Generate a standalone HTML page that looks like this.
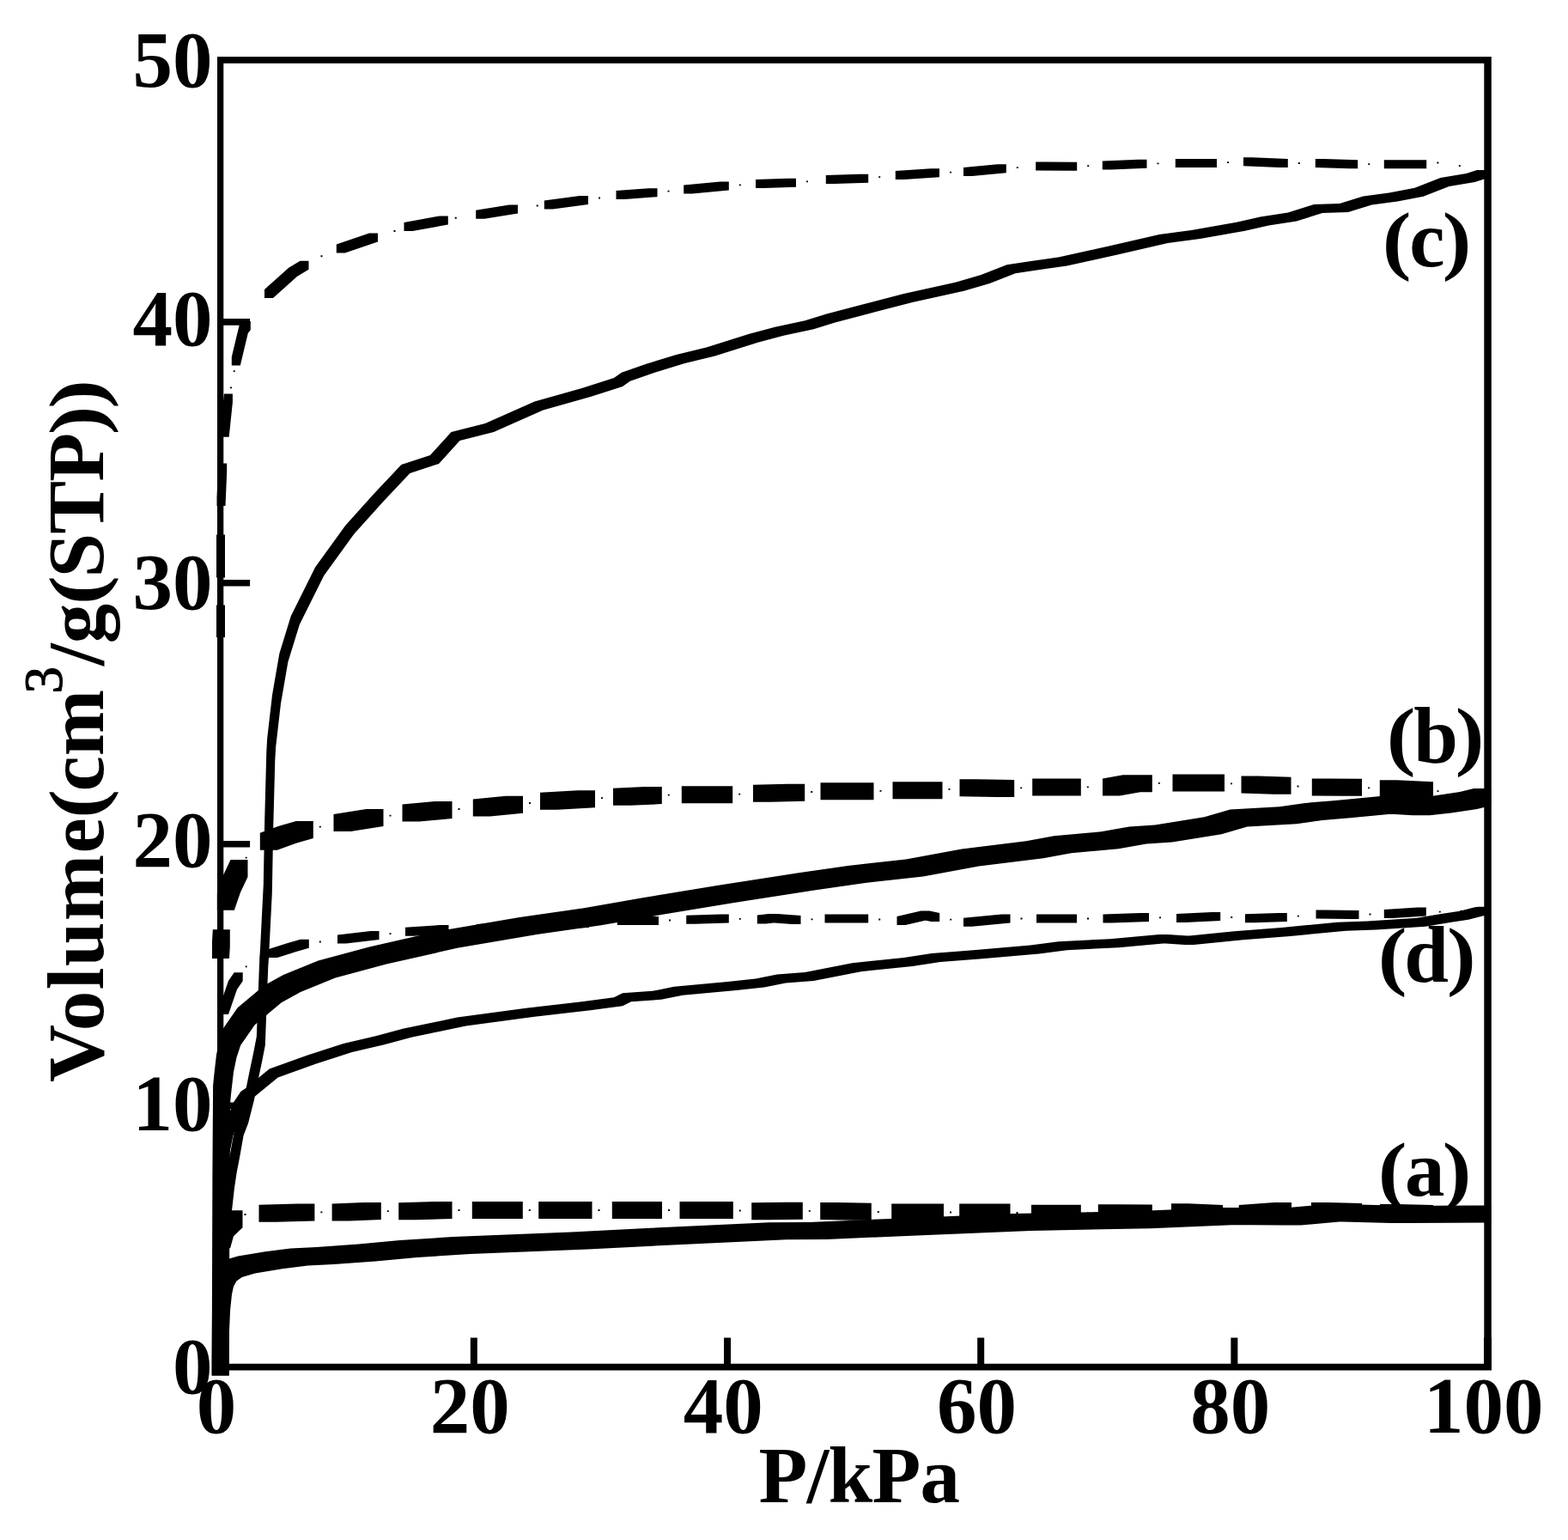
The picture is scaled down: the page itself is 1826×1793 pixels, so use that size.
<!DOCTYPE html>
<html lang="en"><head><meta charset="utf-8"><title>Adsorption isotherms</title>
<style>html,body{margin:0;padding:0;background:#fff}body{width:1826px;height:1793px;overflow:hidden;position:relative}svg{display:block;position:absolute;left:0;top:0}text{font-family:"Liberation Serif",serif;font-weight:bold;fill:#000;font-size:93px}</style></head><body>
<svg width="1826" height="1793" viewBox="0 0 1826 1793">
<rect width="1826" height="1793" fill="#fff"/>
<g fill="#000" stroke="none">
<path d="M253 66H260.3V1595.5H253ZM1728.3 66H1736.8V1595.5H1728.3ZM253 66H1736.8V73.8H253ZM253 1587.8H1736.8V1595.5H253ZM547.83 1557.5H555.83V1588.8H547.83ZM843.01 1557.5H851.01V1588.8H843.01ZM1138.19 1557.5H1146.19V1588.8H1138.19ZM1433.37 1557.5H1441.37V1588.8H1433.37ZM1728 1557.5H1737V1595.5H1728ZM259.3 1283.5H291.1V1291.1H259.3ZM259.3 978.95H291.1V986.55H259.3ZM259.3 674.9H291.1V682.5H259.3ZM259.3 371.05H291.1V378.65H259.3Z"/>
<path d="M251.9 1586L253 1515L263 1515L263 1525L261.9 1596L251.9 1596ZM253 1515L255 1455L265 1455L265 1465L263 1525L253 1525ZM255 1455L259.5 1404L269.5 1404L269.5 1414L265 1465L255 1465ZM259.5 1404L263 1373L273 1373L273 1383L269.5 1414L259.5 1414ZM263 1373L265.7 1355L275.7 1355L275.7 1365L273 1383L263 1383ZM265.7 1355L269 1338L279 1338L279 1348L275.7 1365L265.7 1365ZM269 1338L273.6 1312L283.6 1312L283.6 1322L279 1348L269 1348ZM273.6 1312L279 1298L289 1298L289 1308L283.6 1322L273.6 1322ZM279 1298L285.8 1271.2L295.8 1271.2L295.8 1281.2L289 1308L279 1308ZM285.8 1271.2L290.1 1249.8L300.1 1249.8L300.1 1259.8L295.8 1281.2L285.8 1281.2ZM290.1 1249.8L295.3 1225L305.3 1225L305.3 1235L300.1 1259.8L290.1 1259.8ZM295.3 1225L298.8 1207L308.8 1207L308.8 1217L305.3 1235L295.3 1235ZM298.8 1207L301 1148.5L311 1148.5L311 1158.5L308.8 1217L298.8 1217ZM301 1148.5L302.3 1115L312.3 1115L312.3 1125L311 1158.5L301 1158.5ZM302.3 1115L303 1105L313 1105L313 1115L312.3 1125L302.3 1125ZM303 1105L306.8 1030L316.8 1030L316.8 1040L313 1115L303 1115ZM306.8 1030L308.2 955L318.2 955L318.2 965L316.8 1040L306.8 1040ZM308.2 955L310.3 875L320.3 875L320.3 885L318.2 965L308.2 965ZM310.3 875L311.2 859.4L321.2 859.4L321.2 869.4L320.3 885L310.3 885ZM311.2 859.4L317 809.2L327 809.2L327 819.2L321.2 869.4L311.2 869.4ZM317 809.2L325.4 760.7L335.4 760.7L335.4 770.7L327 819.2L317 819.2ZM325.4 760.7L338.8 717.2L348.8 717.2L348.8 727.2L335.4 770.7L325.4 770.7ZM338.8 717.2L367.2 660.3L377.2 660.3L377.2 670.3L348.8 727.2L338.8 727.2ZM367.2 660.3L402.3 611.8L412.3 611.8L412.3 621.8L377.2 670.3L367.2 670.3ZM402.3 611.8L435.8 574.4L445.8 574.4L445.8 584.4L412.3 621.8L402.3 621.8ZM435.8 574.4L467.4 541L477.4 541L477.4 551L445.8 584.4L435.8 584.4ZM467.4 541L501 530L511 530L511 540L477.4 551L467.4 551ZM501 530L525.5 503L535.5 503L535.5 513L511 540L501 540ZM525.5 503L565 493L575 493L575 503L535.5 513L525.5 513ZM565 493L622.5 467.5L632.5 467.5L632.5 477.5L575 503L565 503ZM622.5 467.5L677.5 452L687.5 452L687.5 462L632.5 477.5L622.5 477.5ZM677.5 452L715 440L725 440L725 450L687.5 462L677.5 462ZM715 440L723.8 433.8L733.8 433.8L733.8 443.8L725 450L715 450ZM723.8 433.8L752.5 423.8L762.5 423.8L762.5 433.8L733.8 443.8L723.8 443.8ZM752.5 423.8L787.5 413L797.5 413L797.5 423L762.5 433.8L752.5 433.8ZM787.5 413L822.5 404.5L832.5 404.5L832.5 414.5L797.5 423L787.5 423ZM822.5 404.5L872.5 388.8L882.5 388.8L882.5 398.8L832.5 414.5L822.5 414.5ZM872.5 388.8L902.5 380.8L912.5 380.8L912.5 390.8L882.5 398.8L872.5 398.8ZM902.5 380.8L937.5 373.2L947.5 373.2L947.5 383.2L912.5 390.8L902.5 390.8ZM937.5 373.2L962.5 365.5L972.5 365.5L972.5 375.5L947.5 383.2L937.5 383.2ZM962.5 365.5L1002.5 355L1012.5 355L1012.5 365L972.5 375.5L962.5 375.5ZM1002.5 355L1052.5 342L1062.5 342L1062.5 352L1012.5 365L1002.5 365ZM1052.5 342L1112.5 328.8L1122.5 328.8L1122.5 338.8L1062.5 352L1052.5 352ZM1112.5 328.8L1142.5 320L1152.5 320L1152.5 330L1122.5 338.8L1112.5 338.8ZM1142.5 320L1172.5 308.2L1182.5 308.2L1182.5 318.2L1152.5 330L1142.5 330ZM1172.5 308.2L1202.5 303.8L1212.5 303.8L1212.5 313.8L1182.5 318.2L1172.5 318.2ZM1202.5 303.8L1232.5 299.5L1242.5 299.5L1242.5 309.5L1212.5 313.8L1202.5 313.8ZM1232.5 299.5L1292.5 286.2L1302.5 286.2L1302.5 296.2L1242.5 309.5L1232.5 309.5ZM1292.5 286.2L1350 273L1360 273L1360 283L1302.5 296.2L1292.5 296.2ZM1350 273L1387.5 268L1397.5 268L1397.5 278L1360 283L1350 283ZM1387.5 268L1440 258.8L1450 258.8L1450 268.8L1397.5 278L1387.5 278ZM1440 258.8L1467.5 252.5L1477.5 252.5L1477.5 262.5L1450 268.8L1440 268.8ZM1467.5 252.5L1500 247.5L1510 247.5L1510 257.5L1477.5 262.5L1467.5 262.5ZM1500 247.5L1530 238L1540 238L1540 248L1510 257.5L1500 257.5ZM1530 238L1560 237L1570 237L1570 247L1540 248L1530 248ZM1560 237L1587.5 228.5L1597.5 228.5L1597.5 238.5L1570 247L1560 247ZM1587.5 228.5L1617.5 224.5L1627.5 224.5L1627.5 234.5L1597.5 238.5L1587.5 238.5ZM1617.5 224.5L1647.5 218.8L1657.5 218.8L1657.5 228.8L1627.5 234.5L1617.5 234.5ZM1647.5 218.8L1677.5 207L1687.5 207L1687.5 217L1657.5 228.8L1647.5 228.8ZM1677.5 207L1707.5 202L1717.5 202L1717.5 212L1687.5 217L1677.5 217ZM1707.5 202L1720 198L1730 198L1730 208L1717.5 212L1707.5 212ZM1720 198L1732 198L1732 208L1720 208Z"/>
<path d="M252 704.6L262 704.6L262 742L252 742ZM252 622.4L262 622.4L262 672.6L252 672.6ZM252.5 579L254.2 539.6L264.2 539.6L264.2 549.6L262.5 589L252.5 589ZM256.7 498.7L260.9 458.5L270.9 458.5L270.9 468.5L266.7 508.7L256.7 508.7ZM269.8 415.5L278.8 378L288.8 378L288.8 388L279.8 425.5L269.8 425.5ZM278.8 378L281.8 374L291.8 374L291.8 384L288.8 388L278.8 388ZM308 337L336.2 311.8L346.2 311.8L346.2 321.8L318 347L308 347ZM336.2 311.8L349.5 303.8L359.5 303.8L359.5 313.8L346.2 321.8L336.2 321.8ZM391.8 284.5L430 271.5L440 271.5L440 281.5L401.8 294.5L391.8 294.5ZM470.5 259L511.8 251.5L521.8 251.5L521.8 261.5L480.5 269L470.5 269ZM554.2 244.8L593 238.5L603 238.5L603 248.5L564.2 254.8L554.2 254.8ZM633.8 233.4L675 228.1L685 228.1L685 238.1L643.8 243.4L633.8 243.4ZM717.5 222L755.5 219.2L765.5 219.2L765.5 229.2L727.5 232L717.5 232ZM796.2 215.6L838.8 211.5L848.8 211.5L848.8 221.5L806.2 225.6L796.2 225.6ZM880 209L917 207.8L927 207.8L927 217.8L890 219L880 219ZM961.8 204.1L1001.2 202.8L1011.2 202.8L1011.2 212.8L971.8 214.1L961.8 214.1ZM1042.8 199L1084 196.2L1094 196.2L1094 206.2L1052.8 209L1042.8 209ZM1122 195L1161.8 191.2L1171.8 191.2L1171.8 201.2L1132 205L1122 205ZM1206.2 188.4L1216.2 188.4L1254.2 188.8L1254.2 198.8L1244.2 198.8L1206.2 198.4ZM1283.8 187.5L1325.5 185.8L1335.5 185.8L1335.5 195.8L1293.8 197.5L1283.8 197.5ZM1368.8 185L1417 185L1417 195L1368.8 195ZM1448 183.2L1458 183.2L1499.8 185L1499.8 195L1489.8 195L1448 193.2ZM1531.8 185L1541.8 185L1581.2 186.2L1581.2 196.2L1571.2 196.2L1531.8 195ZM1611.8 186.2L1661.2 186.2L1661.2 196.2L1611.8 196.2Z"/>
<path d="M251.9 1586L252.5 1445L262.5 1445L262.5 1455L261.9 1596L251.9 1596ZM252.5 1445L254 1375L264 1375L264 1385L262.5 1455L252.5 1455ZM254 1375L257.5 1332.1L267.5 1332.1L267.5 1342.1L264 1385L254 1385ZM257.5 1332.1L261.5 1312L271.5 1312L271.5 1322L267.5 1342.1L257.5 1342.1ZM261.5 1312L266.5 1297.3L276.5 1297.3L276.5 1307.3L271.5 1322L261.5 1322ZM266.5 1297.3L271.6 1284.1L281.6 1284.1L281.6 1294.1L276.5 1307.3L266.5 1307.3ZM271.6 1284.1L280.5 1270.8L290.5 1270.8L290.5 1280.8L281.6 1294.1L271.6 1294.1ZM280.5 1270.8L286.9 1266.5L296.9 1266.5L296.9 1276.5L290.5 1280.8L280.5 1280.8ZM286.9 1266.5L313.7 1244.4L323.7 1244.4L323.7 1254.4L296.9 1276.5L286.9 1276.5ZM313.7 1244.4L357.5 1228.8L367.5 1228.8L367.5 1238.8L323.7 1254.4L313.7 1254.4ZM357.5 1228.8L400 1215L410 1215L410 1225L367.5 1238.8L357.5 1238.8ZM400 1215L437.5 1206.2L447.5 1206.2L447.5 1216.2L410 1225L400 1225ZM437.5 1206.2L470 1197.5L480 1197.5L480 1207.5L447.5 1216.2L437.5 1216.2ZM470 1197.5L483.5 1194.8L493.5 1194.8L493.5 1204.8L480 1207.5L470 1207.5ZM483.5 1194.8L532.5 1184.5L542.5 1184.5L542.5 1194.5L493.5 1204.8L483.5 1204.8ZM532.5 1184.5L612.5 1173.8L622.5 1173.8L622.5 1183.8L542.5 1194.5L532.5 1194.5ZM612.5 1173.8L677.5 1166.2L687.5 1166.2L687.5 1176.2L622.5 1183.8L612.5 1183.8ZM677.5 1166.2L715 1161.2L725 1161.2L725 1171.2L687.5 1176.2L677.5 1176.2ZM715 1161.2L725 1156.2L735 1156.2L735 1166.2L725 1171.2L715 1171.2ZM725 1156.2L760 1153.8L770 1153.8L770 1163.8L735 1166.2L725 1166.2ZM760 1153.8L785 1148.8L795 1148.8L795 1158.8L770 1163.8L760 1163.8ZM785 1148.8L847.5 1143L857.5 1143L857.5 1153L795 1158.8L785 1158.8ZM847.5 1143L880 1139.5L890 1139.5L890 1149.5L857.5 1153L847.5 1153ZM880 1139.5L905 1134.5L915 1134.5L915 1144.5L890 1149.5L880 1149.5ZM905 1134.5L937.5 1132L947.5 1132L947.5 1142L915 1144.5L905 1144.5ZM937.5 1132L992.5 1121.2L1002.5 1121.2L1002.5 1131.2L947.5 1142L937.5 1142ZM992.5 1121.2L1052.5 1115L1062.5 1115L1062.5 1125L1002.5 1131.2L992.5 1131.2ZM1052.5 1115L1085 1110L1095 1110L1095 1120L1062.5 1125L1052.5 1125ZM1085 1110L1117.5 1107.5L1127.5 1107.5L1127.5 1117.5L1095 1120L1085 1120ZM1117.5 1107.5L1133.5 1106.2L1143.5 1106.2L1143.5 1116.2L1127.5 1117.5L1117.5 1117.5ZM1133.5 1106.2L1200 1100.5L1210 1100.5L1210 1110.5L1143.5 1116.2L1133.5 1116.2ZM1200 1100.5L1232.5 1096.2L1242.5 1096.2L1242.5 1106.2L1210 1110.5L1200 1110.5ZM1232.5 1096.2L1292.5 1093.2L1302.5 1093.2L1302.5 1103.2L1242.5 1106.2L1232.5 1106.2ZM1292.5 1093.2L1350 1088L1360 1088L1360 1098L1302.5 1103.2L1292.5 1103.2ZM1350 1088L1360 1088L1390 1090L1390 1100L1380 1100L1350 1098ZM1380 1090L1437.5 1084.2L1447.5 1084.2L1447.5 1094.2L1390 1100L1380 1100ZM1437.5 1084.2L1492.5 1080L1502.5 1080L1502.5 1090L1447.5 1094.2L1437.5 1094.2ZM1492.5 1080L1517.5 1077.5L1527.5 1077.5L1527.5 1087.5L1502.5 1090L1492.5 1090ZM1517.5 1077.5L1557.5 1073.8L1567.5 1073.8L1567.5 1083.8L1527.5 1087.5L1517.5 1087.5ZM1557.5 1073.8L1592.5 1072.5L1602.5 1072.5L1602.5 1082.5L1567.5 1083.8L1557.5 1083.8ZM1592.5 1072.5L1650 1068.8L1660 1068.8L1660 1078.8L1602.5 1082.5L1592.5 1082.5ZM1650 1068.8L1680 1063.8L1690 1063.8L1690 1073.8L1660 1078.8L1650 1078.8ZM1680 1063.8L1700 1060.8L1710 1060.8L1710 1070.8L1690 1073.8L1680 1073.8ZM1700 1060.8L1717.5 1056.2L1727.5 1056.2L1727.5 1066.2L1710 1070.8L1700 1070.8ZM1717.5 1056.2L1722 1055.8L1732 1055.8L1732 1065.8L1727.5 1066.2L1717.5 1066.2Z"/>
<path d="M266 1142L272.7 1132.2L282.7 1132.2L282.7 1142.2L276 1152L266 1152ZM256 1171L266 1142L276 1142L276 1152L266 1181L256 1181ZM313 1105L335 1098L345 1098L345 1108L323 1115L313 1115ZM335 1098L349.8 1093.8L359.8 1093.8L359.8 1103.8L345 1108L335 1108ZM393 1088.4L431.5 1084L441.5 1084L441.5 1094L403 1098.4L393 1098.4ZM472 1079.8L512.5 1077L522.5 1077L522.5 1087L482 1089.8L472 1089.8ZM555 1076L593.5 1074L603.5 1074L603.5 1084L565 1086L555 1086ZM634 1071.5L676 1070L686 1070L686 1080L644 1081.5L634 1081.5ZM718.8 1067L767 1067L767 1077L718.8 1077ZM799.2 1065.8L838.8 1064.5L848.8 1064.5L848.8 1074.5L809.2 1075.8L799.2 1075.8ZM881.8 1065.5L895 1064L905 1064L905 1074L891.8 1075.5L881.8 1075.5ZM895 1064L905 1064L932.5 1066L932.5 1076L922.5 1076L895 1074ZM960.5 1064.5L1011.2 1064.5L1011.2 1074.5L960.5 1074.5ZM1044.5 1067L1072.5 1060.5L1082.5 1060.5L1082.5 1070.5L1054.5 1077L1044.5 1077ZM1072.5 1060.5L1082.5 1060.5L1094.2 1063L1094.2 1073L1084.2 1073L1072.5 1070.5ZM1122 1068.8L1166.5 1064.5L1176.5 1064.5L1176.5 1074.5L1132 1078.8L1122 1078.8ZM1207 1064.5L1254 1064.5L1254 1074.5L1207 1074.5ZM1284.5 1064.5L1328 1063L1338 1063L1338 1073L1294.5 1074.5L1284.5 1074.5ZM1370 1064L1411.2 1062L1421.2 1062L1421.2 1072L1380 1074L1370 1074ZM1450 1064.2L1488.8 1063L1498.8 1063L1498.8 1073L1460 1074.2L1450 1074.2ZM1532.5 1059.5L1542.5 1059.5L1582.5 1060L1582.5 1070L1572.5 1070L1532.5 1069.5ZM1611.8 1059L1650.8 1056.5L1660.8 1056.5L1660.8 1066.5L1621.8 1069L1611.8 1069Z"/>
<path d="M246.7 1581.4L247.4 1370L267.4 1370L267.4 1390L266.7 1601.4L246.7 1601.4ZM247.4 1370L248.1 1263.9L268.1 1263.9L268.1 1283.9L267.4 1390L247.4 1390ZM248.1 1263.9L249.1 1253.5L269.1 1253.5L269.1 1273.5L268.1 1283.9L248.1 1283.9ZM249.1 1253.5L252 1228L272 1228L272 1248L269.1 1273.5L249.1 1273.5ZM252 1228L255.5 1211.3L275.5 1211.3L275.5 1231.3L272 1248L252 1248ZM255.5 1211.3L260.2 1196.9L280.2 1196.9L280.2 1216.9L275.5 1231.3L255.5 1231.3ZM260.2 1196.9L276.7 1173.2L296.7 1173.2L296.7 1193.2L280.2 1216.9L260.2 1216.9ZM276.7 1173.2L307.8 1147.2L327.8 1147.2L327.8 1167.2L296.7 1193.2L276.7 1193.2ZM307.8 1147.2L330 1135L350 1135L350 1155L327.8 1167.2L307.8 1167.2ZM330 1135L370.5 1118.6L390.5 1118.6L390.5 1138.6L350 1155L330 1155ZM370.5 1118.6L430 1102.5L450 1102.5L450 1122.5L390.5 1138.6L370.5 1138.6ZM430 1102.5L512.5 1083.8L532.5 1083.8L532.5 1103.8L450 1122.5L430 1122.5ZM512.5 1083.8L605 1068L625 1068L625 1088L532.5 1103.8L512.5 1103.8ZM605 1068L680 1057.2L700 1057.2L700 1077.2L625 1088L605 1088ZM680 1057.2L750 1045.1L770 1045.1L770 1065.1L700 1077.2L680 1077.2ZM750 1045.1L835 1031.1L855 1031.1L855 1051.1L770 1065.1L750 1065.1ZM835 1031.1L930 1016.2L950 1016.2L950 1036.2L855 1051.1L835 1051.1ZM930 1016.2L987.5 1008L1007.5 1008L1007.5 1028L950 1036.2L930 1036.2ZM987.5 1008L1055 1000.5L1075 1000.5L1075 1020.5L1007.5 1028L987.5 1028ZM1055 1000.5L1120 988.5L1140 988.5L1140 1008.5L1075 1020.5L1055 1020.5ZM1120 988.5L1195 979.3L1215 979.3L1215 999.3L1140 1008.5L1120 1008.5ZM1195 979.3L1227.5 973.2L1247.5 973.2L1247.5 993.2L1215 999.3L1195 999.3ZM1227.5 973.2L1282.5 968.3L1302.5 968.3L1302.5 988.3L1247.5 993.2L1227.5 993.2ZM1282.5 968.3L1315 962.5L1335 962.5L1335 982.5L1302.5 988.3L1282.5 988.3ZM1315 962.5L1345 960.5L1365 960.5L1365 980.5L1335 982.5L1315 982.5ZM1345 960.5L1402.5 951.2L1422.5 951.2L1422.5 971.2L1365 980.5L1345 980.5ZM1402.5 951.2L1432.5 942.5L1452.5 942.5L1452.5 962.5L1422.5 971.2L1402.5 971.2ZM1432.5 942.5L1490 939.3L1510 939.3L1510 959.3L1452.5 962.5L1432.5 962.5ZM1490 939.3L1520 934.9L1540 934.9L1540 954.9L1510 959.3L1490 959.3ZM1520 934.9L1552.5 932.3L1572.5 932.3L1572.5 952.3L1540 954.9L1520 954.9ZM1552.5 932.3L1607.5 927.1L1627.5 927.1L1627.5 947.1L1572.5 952.3L1552.5 952.3ZM1607.5 927.1L1627.5 927.1L1665 929.2L1665 949.2L1645 949.2L1607.5 947.1ZM1645 929.2L1670 926.5L1690 926.5L1690 946.5L1665 949.2L1645 949.2ZM1670 926.5L1700 922L1720 922L1720 942L1690 946.5L1670 946.5ZM1700 922L1716.3 918L1736.3 918L1736.3 938L1720 942L1700 942Z"/>
<path d="M247 1096L247.8 1082.2L267.8 1082.2L267.8 1102.2L267 1116L247 1116ZM260 1019L268.5 1001L288.5 1001L288.5 1021L280 1039L260 1039ZM252.8 1039.8L260 1019L280 1019L280 1039L272.8 1059.8L252.8 1059.8ZM302.8 969.8L324.8 961.8L344.8 961.8L344.8 981.8L322.8 989.8L302.8 989.8ZM324.8 961.8L344.8 956L364.8 956L364.8 976L344.8 981.8L324.8 981.8ZM388.5 948.1L426.5 942L446.5 942L446.5 962L408.5 968.1L388.5 968.1ZM468.5 936.5L506.5 933.1L526.5 933.1L526.5 953.1L488.5 956.5L468.5 956.5ZM550.8 930.5L589 926.8L609 926.8L609 946.8L570.8 950.5L550.8 950.5ZM629 922.8L673 920.2L693 920.2L693 940.2L649 942.8L629 942.8ZM714 917.8L750.8 916.1L770.8 916.1L770.8 936.1L734 937.8L714 937.8ZM793.8 915.2L853.2 915.2L853.2 935.2L793.8 935.2ZM877 913.8L917.2 912.8L937.2 912.8L937.2 932.8L897 933.8L877 933.8ZM955.5 911.2L1017.5 911.2L1017.5 931.2L955.5 931.2ZM1039.5 910.2L1097.5 910.2L1097.5 930.2L1039.5 930.2ZM1117.5 907.2L1137.5 907.2L1181.2 908L1181.2 928L1161.2 928L1117.5 927.2ZM1202.2 906.4L1258.8 906.4L1258.8 926.4L1202.2 926.4ZM1284 906.5L1307.8 902.2L1327.8 902.2L1327.8 922.2L1304 926.5L1284 926.5ZM1307.8 902.2L1341.8 902.2L1341.8 922.2L1307.8 922.2ZM1365.5 901.5L1426 901.5L1426 921.5L1365.5 921.5ZM1445.5 903.5L1465.5 903.5L1503.5 904.8L1503.5 924.8L1483.5 924.8L1445.5 923.5ZM1527.8 906.5L1547.8 906.5L1586 906.8L1586 926.8L1566 926.8L1527.8 926.5ZM1606.8 908.2L1626.8 908.2L1669 910.2L1669 930.2L1649 930.2L1606.8 928.2Z"/>
<path d="M246.7 1581.4L247 1530L267 1530L267 1550L266.7 1601.4L246.7 1601.4ZM247 1530L248.1 1505L268.1 1505L268.1 1525L267 1550L247 1550ZM248.1 1505L250 1487L270 1487L270 1507L268.1 1525L248.1 1525ZM250 1487L252 1477.8L272 1477.8L272 1497.8L270 1507L250 1507ZM252 1477.8L255.5 1471.5L275.5 1471.5L275.5 1491.5L272 1497.8L252 1497.8ZM255.5 1471.5L261.8 1466.9L281.8 1466.9L281.8 1486.9L275.5 1491.5L255.5 1491.5ZM261.8 1466.9L277.1 1462.5L297.1 1462.5L297.1 1482.5L281.8 1486.9L261.8 1486.9ZM277.1 1462.5L308.8 1457.2L328.8 1457.2L328.8 1477.2L297.1 1482.5L277.1 1482.5ZM308.8 1457.2L338.5 1453.4L358.5 1453.4L358.5 1473.4L328.8 1477.2L308.8 1477.2ZM338.5 1453.4L368.9 1452.1L388.9 1452.1L388.9 1472.1L358.5 1473.4L338.5 1473.4ZM368.9 1452.1L417.5 1448.4L437.5 1448.4L437.5 1468.4L388.9 1472.1L368.9 1472.1ZM417.5 1448.4L465.8 1444L485.8 1444L485.8 1464L437.5 1468.4L417.5 1468.4ZM465.8 1444L527.5 1440L547.5 1440L547.5 1460L485.8 1464L465.8 1464ZM527.5 1440L665 1434.5L685 1434.5L685 1454.5L547.5 1460L527.5 1460ZM665 1434.5L752.5 1430L772.5 1430L772.5 1450L685 1454.5L665 1454.5ZM752.5 1430L896 1423.2L916 1423.2L916 1443.2L772.5 1450L752.5 1450ZM896 1423.2L942.5 1423L962.5 1423L962.5 1443L916 1443.2L896 1443.2ZM942.5 1423L1030 1419.2L1050 1419.2L1050 1439.2L962.5 1443L942.5 1443ZM1030 1419.2L1180 1413L1200 1413L1200 1433L1050 1439.2L1030 1439.2ZM1180 1413L1320 1410.2L1340 1410.2L1340 1430.2L1200 1433L1180 1433ZM1320 1410.2L1420 1405.9L1440 1405.9L1440 1425.9L1340 1430.2L1320 1430.2ZM1420 1405.9L1440 1405.9L1515 1406.4L1515 1426.4L1495 1426.4L1420 1425.9ZM1495 1406.4L1545 1402.1L1565 1402.1L1565 1422.1L1515 1426.4L1495 1426.4ZM1545 1402.1L1565 1402.1L1640 1404.1L1640 1424.1L1620 1424.1L1545 1422.1ZM1620 1404.1L1716.3 1403.4L1736.3 1403.4L1736.3 1423.4L1640 1424.1L1620 1424.1Z"/>
<path d="M252 1419.2L262.5 1409.3L282.5 1409.3L282.5 1429.3L272 1439.2L252 1439.2ZM248.1 1433.2L252 1419.2L272 1419.2L272 1439.2L268.1 1453.2L248.1 1453.2ZM301.5 1402.8L346.4 1401.4L366.4 1401.4L366.4 1421.4L321.5 1422.8L301.5 1422.8ZM386.6 1401.4L423.8 1400.1L443.8 1400.1L443.8 1420.1L406.6 1421.4L386.6 1421.4ZM464.2 1400.2L506.5 1399L526.5 1399L526.5 1419L484.2 1420.2L464.2 1420.2ZM549.8 1399L608.8 1399L608.8 1419L549.8 1419ZM627.2 1399L689.5 1399L689.5 1419L627.2 1419ZM712.8 1399L771 1399L771 1419L712.8 1419ZM791.5 1399L853.8 1399L853.8 1419L791.5 1419ZM875.2 1400.2L914.8 1399.7L934.8 1399.7L934.8 1419.7L895.2 1420.2L875.2 1420.2ZM955.2 1400L975.2 1400L1014.8 1400.7L1014.8 1420.7L994.8 1420.7L955.2 1420ZM1038.2 1401.5L1099 1401.5L1099 1421.5L1038.2 1421.5ZM1117.2 1401.5L1176.5 1401.5L1176.5 1421.5L1117.2 1421.5ZM1201 1402.7L1258.8 1402.7L1258.8 1422.7L1201 1422.7ZM1278.8 1402.2L1298.8 1402.2L1341.8 1402.4L1341.8 1422.4L1321.8 1422.4L1278.8 1422.2ZM1364 1401.3L1384 1401.3L1424 1403L1424 1423L1404 1423L1364 1421.3ZM1442.7 1403.1L1484 1400.1L1504 1400.1L1504 1420.1L1462.7 1423.1L1442.7 1423.1ZM1527 1400.1L1547 1400.1L1586 1401L1586 1421L1566 1421L1527 1420.1ZM1607 1402L1627 1402L1669 1403L1669 1423L1649 1423L1607 1422Z"/>
<path d="M373.5 297.35h2v1.8h-2zM458.5 268.1h2v1.8h-2zM529.75 252.85h2v1.8h-2zM624.75 238.6h2v1.8h-2zM697 229.6h2v1.8h-2zM777.5 221.7h2v1.8h-2zM860.8 214.5h2v1.8h-2zM939 210.4h2v1.8h-2zM1023.2 205.2h2v1.8h-2zM1106 199.8h2v1.8h-2zM1183.8 194.2h2v1.8h-2zM1266.2 192.3h2v1.8h-2zM1347.5 189.5h2v1.8h-2zM1429 188.3h2v1.8h-2zM1511.8 189.1h2v1.8h-2zM1593.2 190.3h2v1.8h-2zM371.8 961.8h2v1.8h-2zM453.5 948.7h2v1.8h-2zM533.5 941.1h2v1.8h-2zM616 934.1h2v1.8h-2zM700 928.3h2v1.8h-2zM777.8 924.8h2v1.8h-2zM860.2 923.7h2v1.8h-2zM944.2 921.1h2v1.8h-2zM1024.5 919.9h2v1.8h-2zM1104.5 918h2v1.8h-2zM1188.2 916.4h2v1.8h-2zM1265.8 915.5h2v1.8h-2zM1348.8 911h2v1.8h-2zM1433 911.5h2v1.8h-2zM1510.5 914.6h2v1.8h-2zM1593 916.5h2v1.8h-2zM371.8 1095.6h2v1.8h-2zM453.5 1086.2h2v1.8h-2zM534.5 1080.7h2v1.8h-2zM615.5 1077h2v1.8h-2zM698 1072.8h2v1.8h-2zM779 1070.6h2v1.8h-2zM860.8 1069h2v1.8h-2zM944.5 1069.4h2v1.8h-2zM1023.2 1069.6h2v1.8h-2zM1106.2 1069.8h2v1.8h-2zM1188.5 1068.6h2v1.8h-2zM1266 1068.6h2v1.8h-2zM1350 1067.5h2v1.8h-2zM1433.2 1067.1h2v1.8h-2zM1510.8 1065.7h2v1.8h-2zM1594.5 1063.6h2v1.8h-2zM373.4 1410.5h2v1.8h-2zM450.8 1409.3h2v1.8h-2zM533.5 1408.1h2v1.8h-2zM615.8 1408.1h2v1.8h-2zM696.5 1408.1h2v1.8h-2zM778 1408.1h2v1.8h-2zM860.8 1408.6h2v1.8h-2zM941.8 1408.9h2v1.8h-2zM1021.8 1410.1h2v1.8h-2zM1106 1410.6h2v1.8h-2zM1183.5 1411.1h2v1.8h-2zM1265.8 1411.6h2v1.8h-2zM1348.8 1411h2v1.8h-2zM1431 1412.1h2v1.8h-2zM1511 1409.2h2v1.8h-2zM1593 1410.5h2v1.8h-2zM271.7 431.3h2v1.8h-2zM268 450.5h2v1.8h-2zM285.7 997.8h2v1.8h-2zM285.7 1124.5h2v1.8h-2zM284.5 1413.1h2v1.8h-2zM1673.4 188.6h2v1.8h-2zM1698.8 192.3h2v1.8h-2zM1673.5 920.3h2v1.8h-2zM1675.8 1060.8h2v1.8h-2zM1700.6 1059.8h2v1.8h-2z"/>
</g>
<text x="247.4" y="1622.3" text-anchor="end">0</text>
<text x="247.4" y="1316.1" text-anchor="end">10</text>
<text x="247.4" y="1009.4" text-anchor="end">20</text>
<text x="247.4" y="708.9" text-anchor="end">30</text>
<text x="247.4" y="402.2" text-anchor="end">40</text>
<text x="247.4" y="101.1" text-anchor="end">50</text>
<text x="251.95" y="1668.3" text-anchor="middle">0</text>
<text x="547.13" y="1668.3" text-anchor="middle">20</text>
<text x="842.31" y="1668.3" text-anchor="middle">40</text>
<text x="1137.49" y="1668.3" text-anchor="middle">60</text>
<text x="1432.67" y="1668.3" text-anchor="middle">80</text>
<text x="1727.85" y="1668.3" text-anchor="middle">100</text>
<text x="883.4" y="1749.4" textLength="234.7" lengthAdjust="spacing">P/kPa</text>
<g><text transform="translate(1609.66 309.44) scale(1.088 0.9525)">(</text><text x="1641.18" y="310.4">c</text><text transform="translate(1679.65 309.44) scale(1.088 0.9525)">)</text></g>
<g><text transform="translate(1614.66 886.29) scale(1.088 0.9525)">(</text><text x="1646.13" y="887.5">b</text><text transform="translate(1694.75 886.29) scale(1.088 0.9525)">)</text></g>
<g><text transform="translate(1604.66 1141.99) scale(1.088 0.9525)">(</text><text x="1635.13" y="1142.9">d</text><text transform="translate(1684.9 1141.99) scale(1.088 0.9525)">)</text></g>
<g><text transform="translate(1604.66 1391.94) scale(1.088 0.9525)">(</text><text x="1636.11" y="1392.3">a</text><text transform="translate(1679.65 1391.94) scale(1.088 0.9525)">)</text></g>
<g transform="translate(119.8 1260.1) rotate(-90)"><text x="0" y="0" textLength="308" lengthAdjust="spacing">Volume</text><text transform="translate(307.3 -1) scale(1.088 0.9525)">(</text><text x="338.7" y="0">cm</text><text x="452.6" y="-47.7" style="font-size:63px;font-weight:normal;stroke:#000;stroke-width:1px">3</text><text x="485.1" y="0">/g</text><text transform="translate(556.1 -1) scale(1.088 0.9525)">(</text><text x="587.7" y="0" textLength="168.5" lengthAdjust="spacing">STP</text><text transform="translate(753.8 -1) scale(1.088 0.9525)">)</text><text transform="translate(784.3 -1) scale(1.088 0.9525)">)</text></g>
</svg></body></html>
